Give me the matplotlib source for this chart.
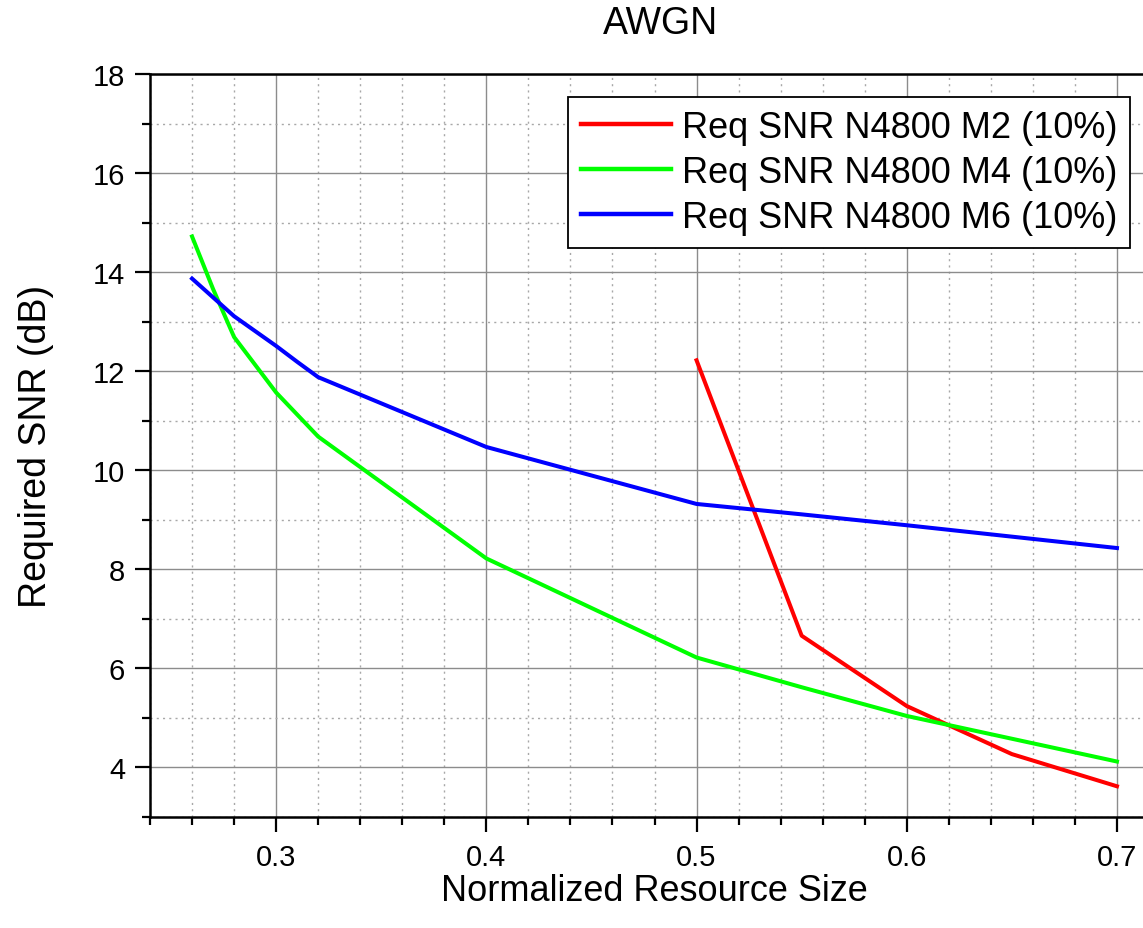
import numpy as np
import matplotlib
matplotlib.use('Agg')
import matplotlib.pyplot as plt
from matplotlib.ticker import MultipleLocator

plt.rcParams['font.family'] = ['Liberation Sans', 'DejaVu Sans']

# data
x_m2 = [0.50, 0.55, 0.60, 0.65, 0.70]
snr_m2 = [12.22, 6.66, 5.24, 4.27, 3.62]

x_m4 = [0.26, 0.27, 0.28, 0.30, 0.32, 0.40, 0.50, 0.55, 0.60, 0.70]
snr_m4 = [14.72, 13.66, 12.69, 11.57, 10.68, 8.22, 6.22, 5.62, 5.04, 4.12]

x_m6 = [0.26, 0.28, 0.29, 0.30, 0.31, 0.32, 0.40, 0.50, 0.55, 0.60, 0.65, 0.70]
snr_m6 = [13.87, 13.11, 12.81, 12.51, 12.19, 11.88, 10.47, 9.32, 9.11, 8.89, 8.66, 8.43]

labels = ['Req SNR N4800 M2 (10%)', 'Req SNR N4800 M4 (10%)', 'Req SNR N4800 M6 (10%)']
colors = ['#ff0000', '#00ff00', '#0000ff']

W, H = 1143, 929
fig = plt.figure(figsize=(W / 100, H / 100), dpi=100)
# axes runs past the right edge of the picture, as in the reference
ax = fig.add_axes([150 / W, 1 - 818 / H, (1159 - 150) / W, (818 - 75) / H])

for xs, ys, c, lab in zip([x_m2, x_m4, x_m6], [snr_m2, snr_m4, snr_m6], colors, labels):
    ax.plot(xs, ys, color=c, lw=2.9, label=lab, solid_joinstyle='round')

ax.set_xlim(0.24, 0.72)
ax.set_ylim(3, 18)
ax.xaxis.set_major_locator(MultipleLocator(0.1))
ax.xaxis.set_minor_locator(MultipleLocator(0.02))
ax.yaxis.set_major_locator(MultipleLocator(2))
ax.yaxis.set_minor_locator(MultipleLocator(1))
ax.set_xticks([0.3, 0.4, 0.5, 0.6, 0.7])
ax.set_xticklabels(['0.3', '0.4', '0.5', '0.6', '0.7'])

ax.grid(which='major', color='#8c8c8c', lw=1.0, ls='-')
ax.grid(which='minor', color='#a8a8a8', lw=1.0, ls=(0, (1.5, 3)))
ax.set_axisbelow(True)

ax.tick_params(which='major', direction='out', length=11, width=1.6, labelsize=21, pad=7)
ax.tick_params(which='minor', direction='out', length=6, width=1.6)
ax.tick_params(axis='x', which='both', top=False)
ax.tick_params(axis='x', pad=8)
for s in ['left', 'bottom', 'top']:
    ax.spines[s].set_linewidth(1.8)
ax.spines['right'].set_visible(False)

ax.set_xlabel('Normalized Resource Size', fontsize=26, labelpad=1)
ax.set_ylabel('Required SNR (dB)', fontsize=27, labelpad=28)
fig.text(660 / W, 1 - 24 / H, 'AWGN', ha='center', va='center', fontsize=27)

leg = ax.legend(loc='upper right', bbox_to_anchor=(1130 / W, 1 - 98 / H),
                bbox_transform=fig.transFigure, fontsize=26, fancybox=False,
                framealpha=1, edgecolor='black', handlelength=2.5,
                handletextpad=0.28, borderpad=0.36, labelspacing=0.27,
                borderaxespad=0)
leg.get_frame().set_linewidth(1.3)
for line in leg.get_lines():
    line.set_linewidth(3.2)

fig.savefig('out.png', dpi=100)
